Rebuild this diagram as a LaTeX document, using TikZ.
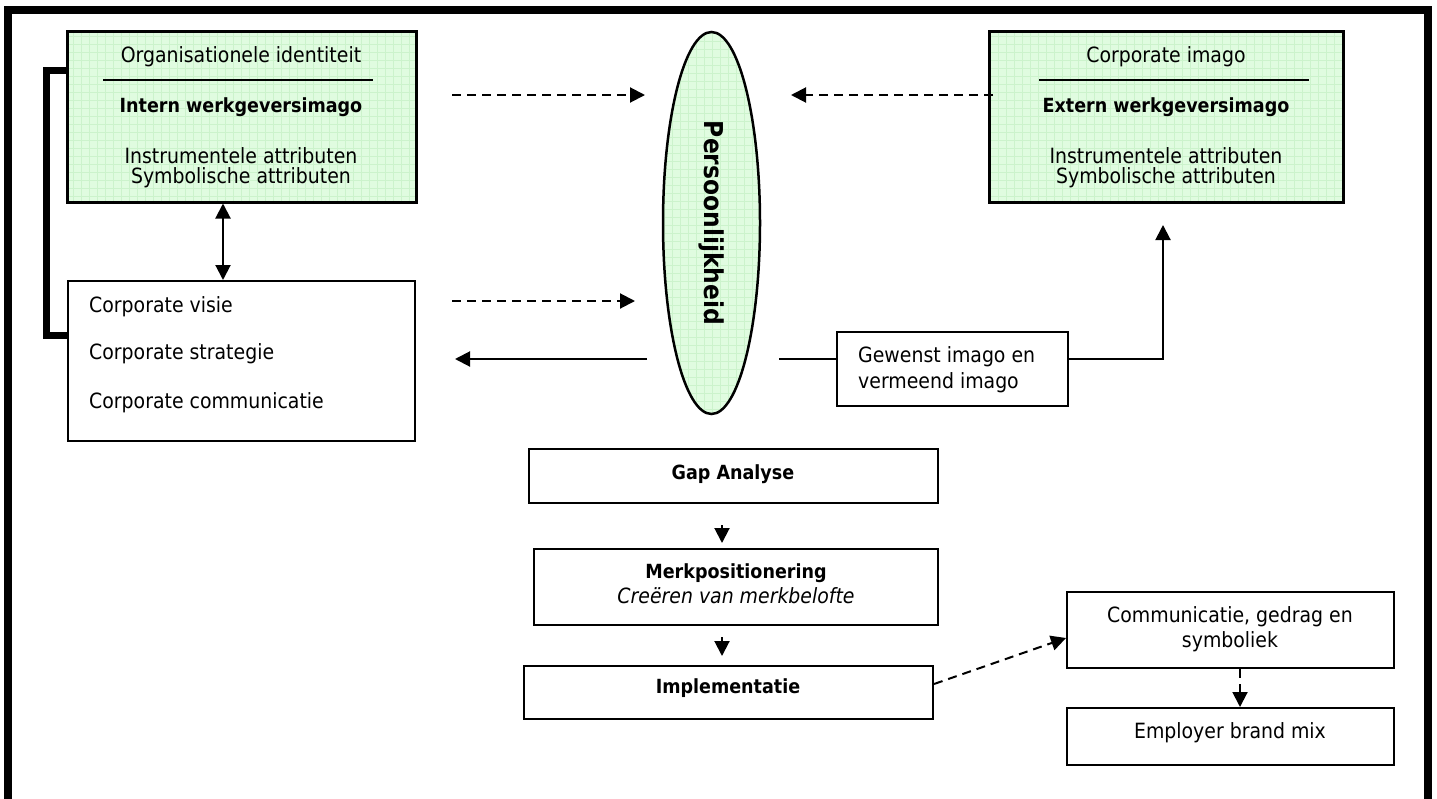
\documentclass[tikz,border=0pt]{standalone}
\usepackage{fontspec}
\setmainfont{DejaVu Sans Condensed}
\usetikzlibrary{shapes.geometric,arrows.meta}

\definecolor{mint}{RGB}{224,252,224}
\definecolor{mintgrid}{RGB}{204,243,204}

\newcommand\normsize{\fontsize{21}{25}\selectfont}
\newcommand\boldsize{\fontsize{19.5}{23}\selectfont\bfseries}
\newcommand\bigbold{\fontsize{26}{30}\selectfont\bfseries}

\tikzset{
  frame/.style={line width=8pt, line join=miter},
  box/.style={draw, rectangle, line width=2pt, inner sep=0pt},
  gridfill/.style={fill=mint, path picture={
      \draw[mintgrid, line width=0.6pt]
        (path picture bounding box.south west) grid[step=8pt]
        (path picture bounding box.north east);}},
  greenbox/.style={box, line width=3pt, gridfill},
  txt/.style={inner sep=0pt, anchor=base, font=\normsize},
  txtl/.style={txt, anchor=base west},
  txtb/.style={txt, font=\boldsize},
  rulel/.style={line width=1.5pt},
  tip/.style={-{Triangle[length=15pt,width=15pt]}},
  conn/.style={line width=2pt, tip},
  dconn/.style={conn, dash pattern=on 9pt off 6pt},
  bracket/.style={line width=7pt, line join=miter}
}

\begin{document}
\begin{tikzpicture}[x=1pt,y=-1pt]
\useasboundingbox (0,0) rectangle (1437,798);
\fill[white] (0,0) rectangle (1437,798);

% outer frame, open at the bottom
\draw[frame] (8,810) -- (8,9.5) -- (1428,9.5) -- (1428,810);

% ---- left column ----
\node[greenbox, minimum width=349pt, minimum height=171pt] (lbox) at (241.5,116.5) {};
\node[txt]  (lbox-a) at (241,62.5) {Organisationele identiteit};
\draw[rulel] (103,80) -- (373,80);
\node[txtb] (lbox-b) at (241,112) {Intern werkgeversimago};
\node[txt]  (lbox-c) at (241,163) {Instrumentele attributen};
\node[txt]  (lbox-d) at (241,183) {Symbolische attributen};

\node[box, minimum width=347pt, minimum height=160pt] (cbox) at (241.5,361) {};
\node[txtl] (cbox-a) at (89,312) {Corporate visie};
\node[txtl] (cbox-b) at (89,359) {Corporate strategie};
\node[txtl] (cbox-c) at (89,408) {Corporate communicatie};

% bracket joining the two left boxes
\draw[bracket] (lbox.west |- 0,70.5) -| (46.5,335) -- (cbox.west |- 0,335);

% two-way link between the left boxes
\draw[line width=2pt, {Triangle[length=15pt,width=15pt]}-{Triangle[length=15pt,width=15pt]}]
  (223,0 |- lbox.south) -- (223,0 |- cbox.north);

% ---- centre ellipse ----
\node[ellipse, draw, line width=2.5pt, gridfill, inner sep=0pt,
      minimum width=382pt, minimum height=97pt, rotate=-90,
      font=\bigbold] (pers) at (711.5,223) {Persoonlijkheid};

% ---- right column ----
\node[greenbox, minimum width=354pt, minimum height=171pt] (rbox) at (1166,116.5) {};
\node[txt]  (rbox-a) at (1166,62) {Corporate imago};
\draw[rulel] (1039,80) -- (1309,80);
\node[txtb] (rbox-b) at (1166,112) {Extern werkgeversimago};
\node[txt]  (rbox-c) at (1166,163) {Instrumentele attributen};
\node[txt]  (rbox-d) at (1166,183) {Symbolische attributen};

\node[box, minimum width=231pt, minimum height=74pt] (gw) at (952.5,369) {};
\node[txtl] (gw-a) at (858,362) {Gewenst imago en};
\node[txtl] (gw-b) at (858,388) {vermeend imago};

% ---- flow below ----
\node[box, minimum width=409pt, minimum height=54pt] (gap) at (733.5,476) {};
\node[txtb] (gap-t) at (733,479) {Gap Analyse};

\node[box, minimum width=404pt, minimum height=76pt] (merk) at (736,587) {};
\node[txtb] (merk-a) at (736,578) {Merkpositionering};
\node[txt, font=\normsize\itshape] (merk-b) at (736,603) {Creëren van merkbelofte};

\node[box, minimum width=409pt, minimum height=53pt] (impl) at (728.5,692.5) {};
\node[txtb] (impl-t) at (728,693) {Implementatie};

\node[box, minimum width=327pt, minimum height=76pt] (comm) at (1230.5,630) {};
\node[txt] (comm-a) at (1230,622) {Communicatie, gedrag en};
\node[txt] (comm-b) at (1230,647) {symboliek};

\node[box, minimum width=327pt, minimum height=57pt] (emp) at (1230.5,736.5) {};
\node[txt] (emp-t) at (1230,738) {Employer brand mix};

% ---- free connector ends ----
\coordinate (dl1) at (452,95);   \coordinate (dl2) at (645,95);
\coordinate (dr1) at (993,95);   \coordinate (dr2) at (791,95);
\coordinate (dm1) at (452,301);  \coordinate (dm2) at (635,301);
\coordinate (sl1) at (647,359);  \coordinate (sl2) at (455,359);
\coordinate (gl)  at (779,359);
\coordinate (up)  at (1163,225);
\coordinate (g1)  at (722,525);  \coordinate (g2) at (722,543);
\coordinate (m1)  at (722,637);  \coordinate (m2) at (722,656);

% ---- connectors ----
\draw[dconn] (dl1) -- (dl2);
\draw[dconn] (dr1) -- (dr2);
\draw[dconn] (dm1) -- (dm2);
\draw[conn]  (sl1) -- (sl2);
\draw[line width=2pt] (gl) -- (gl -| gw.west);
\draw[conn]  (gw.east |- gl) -| (up);
\draw[conn]  (g1) -- (g2);
\draw[conn]  (m1) -- (m2);
\draw[dconn] (impl.east |- 0,684) -- (comm.west |- 0,638);
\draw[dconn] (1240,0 |- comm.south) -- (1240,0 |- emp.north);
\end{tikzpicture}
\end{document}
